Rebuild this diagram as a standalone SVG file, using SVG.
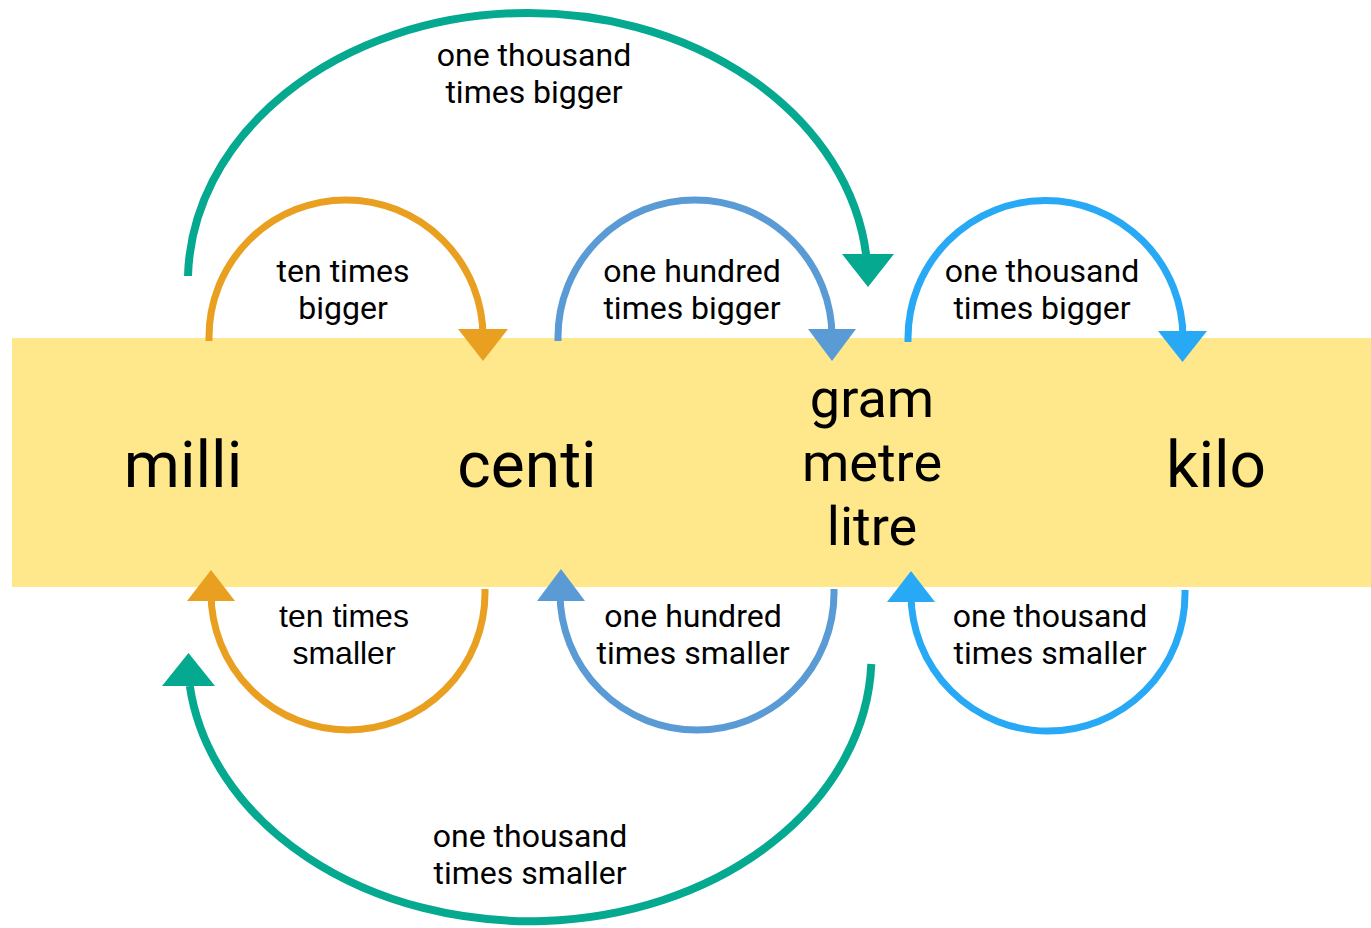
<svg xmlns="http://www.w3.org/2000/svg" width="1371" height="928" viewBox="0 0 1371 928">
  <style>
    .arc { fill: none; stroke-width: 7; stroke-linecap: butt; }
    .big { stroke-width: 8; }
    .orange { stroke: #E9A020; }
    .blue { stroke: #5B9BD5; }
    .lblue { stroke: #28A9F6; }
    .teal { stroke: #05A98F; }
    .f-orange { fill: #E9A020; }
    .f-blue { fill: #5B9BD5; }
    .f-lblue { fill: #28A9F6; }
    .f-teal { fill: #05A98F; }
    .lbl { font-family: Roboto, "Liberation Sans", sans-serif; font-size: 32px; fill: #000; text-anchor: middle; }
    .lbl-arial { font-family: "Liberation Sans", Arial, sans-serif; font-size: 32px; fill: #000; text-anchor: middle; }
    .node { font-family: Roboto, "Liberation Sans", sans-serif; fill: #000; text-anchor: middle; }
  </style>
  <rect width="1371" height="928" fill="#FFFFFF"/>
  <rect id="band" x="12" y="338" width="1359" height="249" fill="#FEE88B"/>

  <g id="node-milli"><text class="node" x="183" y="487" font-size="64">milli</text></g>
  <g id="node-centi"><text class="node" x="527" y="487" font-size="64">centi</text></g>
  <g id="node-base">
    <text class="node" x="872" y="417" font-size="54">gram</text>
    <text class="node" x="872" y="481" font-size="54">metre</text>
    <text class="node" x="872" y="545" font-size="54">litre</text>
  </g>
  <g id="node-kilo"><text class="node" x="1216" y="487" font-size="64">kilo</text></g>

  <g id="connectors">
    <!-- top: bigger -->
    <path class="arc orange" d="M209,341 L209,337 A137,137 0 0 1 483,337 L483,330"/>
    <polygon class="f-orange" points="458,329 508,329 483,361"/>
    <path class="arc blue" d="M558,341 L558,337 A137,137 0 0 1 832,337 L832,330"/>
    <polygon class="f-blue" points="808,329 856,329 832,361"/>
    <path class="arc lblue" d="M908,342 L908,338 A137.5,137.5 0 0 1 1183,338 L1183,332"/>
    <polygon class="f-lblue" points="1158,331 1207,331 1182.5,362"/>
    <path class="arc big teal" d="M188,276 A340,269 0 0 1 866.2,255"/>
    <polygon class="f-teal" points="842,254 894,254 868,287"/>
    <!-- bottom: smaller -->
    <path class="arc orange" d="M485,589 L485,593 A137,137 0 0 1 211,593 L211,600"/>
    <polygon class="f-orange" points="187,601 235,601 211,570"/>
    <path class="arc blue" d="M834,589 L834,593 A137,137 0 0 1 560,593 L560,600"/>
    <polygon class="f-blue" points="537,601 585,601 561,569"/>
    <path class="arc lblue" d="M1185,590 L1185,594 A137,137 0 0 1 911,594 L911,601"/>
    <polygon class="f-lblue" points="887,602 935,602 911,571"/>
    <path class="arc big teal" d="M871.3,664 A342,266 0 0 1 189.8,686"/>
    <polygon class="f-teal" points="162,686 215,686 188.5,653"/>
  </g>

  <g id="connector-labels">
    <text class="lbl" x="534" y="66">one thousand</text>
    <text class="lbl" x="534" y="103">times bigger</text>
    <text class="lbl" x="343" y="282">ten times</text>
    <text class="lbl" x="343" y="319">bigger</text>
    <text class="lbl" x="692" y="282">one hundred</text>
    <text class="lbl" x="692" y="319">times bigger</text>
    <text class="lbl" x="1042" y="282">one thousand</text>
    <text class="lbl" x="1042" y="319">times bigger</text>
    <text class="lbl-arial" x="344" y="627">ten times</text>
    <text class="lbl-arial" x="344" y="664">smaller</text>
    <text class="lbl" x="693" y="627">one hundred</text>
    <text class="lbl" x="693" y="664">times smaller</text>
    <text class="lbl" x="1050" y="627">one thousand</text>
    <text class="lbl" x="1050" y="664">times smaller</text>
    <text class="lbl" x="530" y="847">one thousand</text>
    <text class="lbl" x="530" y="884">times smaller</text>
  </g>
</svg>
